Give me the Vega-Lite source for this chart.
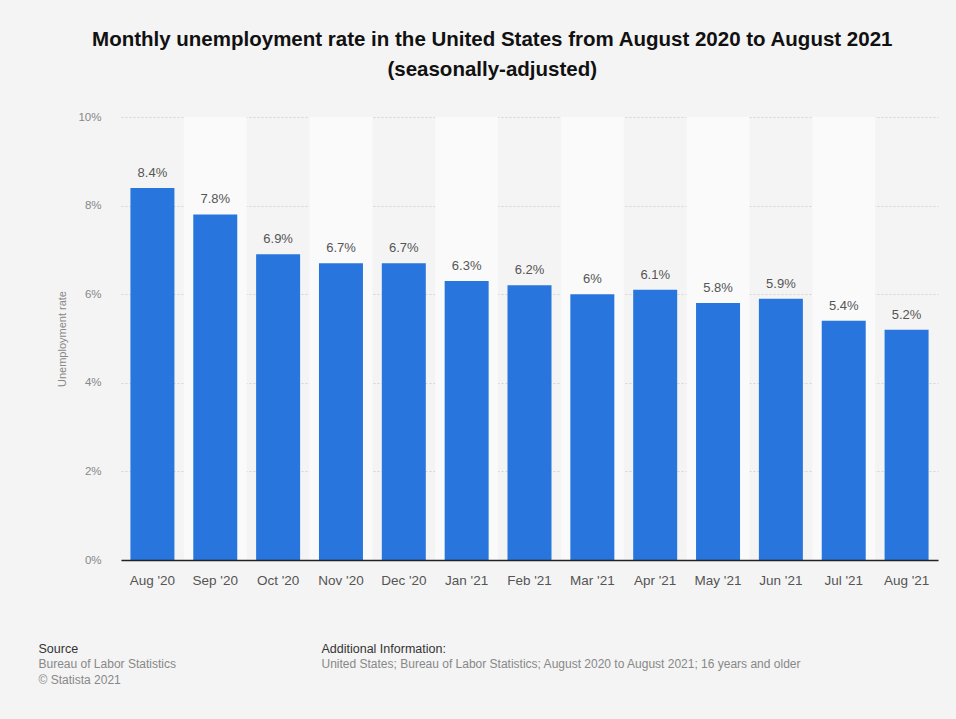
{
  "$schema": "https://vega.github.io/schema/vega-lite/v6.json",
  "background": "#f4f4f4",
  "padding": {"left": 38, "top": 29, "right": 12, "bottom": 30},
  "config": {
    "font": "Liberation Sans",
    "view": {"stroke": null},
    "concat": {"spacing": 56}
  },
  "title": {
    "text": ["Monthly unemployment rate in the United States from August 2020 to August 2021", "(seasonally-adjusted)"],
    "anchor": "middle",
    "fontSize": 20.5,
    "fontWeight": "bold",
    "color": "#111111",
    "lineHeight": 30,
    "offset": 31
  },
  "vconcat": [
    {
      "width": 817,
      "height": 443,
      "data": {
        "values": [
          {"month": "Aug '20", "rate": 0.084},
          {"month": "Sep '20", "rate": 0.078},
          {"month": "Oct '20", "rate": 0.069},
          {"month": "Nov '20", "rate": 0.067},
          {"month": "Dec '20", "rate": 0.067},
          {"month": "Jan '21", "rate": 0.063},
          {"month": "Feb '21", "rate": 0.062},
          {"month": "Mar '21", "rate": 0.06},
          {"month": "Apr '21", "rate": 0.061},
          {"month": "May '21", "rate": 0.058},
          {"month": "Jun '21", "rate": 0.059},
          {"month": "Jul '21", "rate": 0.054},
          {"month": "Aug '21", "rate": 0.052}
        ]
      },
      "encoding": {
        "x": {
          "field": "month",
          "type": "ordinal",
          "sort": ["Aug '20", "Sep '20", "Oct '20", "Nov '20", "Dec '20", "Jan '21", "Feb '21", "Mar '21", "Apr '21", "May '21", "Jun '21", "Jul '21", "Aug '21"],
          "scale": {"paddingInner": 0, "paddingOuter": 0},
          "axis": {
            "title": null,
            "labelAngle": 0,
            "labelFontSize": 13.5,
            "labelColor": "#555555",
            "labelPadding": 13,
            "ticks": false,
            "domain": true,
            "domainColor": "#222222",
            "domainWidth": 1.5,
            "grid": false
          }
        }
      },
      "layer": [
        {
          "data": {
            "values": [
              {"month": "Sep '20"}, {"month": "Nov '20"}, {"month": "Jan '21"},
              {"month": "Mar '21"}, {"month": "May '21"}, {"month": "Jul '21"}
            ]
          },
          "mark": {"type": "rect", "fill": "#fafafa"},
          "encoding": {
            "y": {"datum": 0.1, "type": "quantitative"},
            "y2": {"datum": 0}
          }
        },
        {
          "mark": {"type": "bar", "color": "#2876dd", "width": {"band": 0.7}},
          "encoding": {
            "y": {
              "field": "rate",
              "type": "quantitative",
              "scale": {"domain": [0, 0.1], "nice": false},
              "axis": {
                "title": "Unemployment rate",
                "titleFontSize": 11,
                "titleFontWeight": "normal",
                "titleColor": "#888888",
                "titlePadding": 10,
                "values": [0, 0.02, 0.04, 0.06, 0.08, 0.1],
                "format": ".0%",
                "labelFontSize": 11.5,
                "labelColor": "#888888",
                "labelPadding": 20,
                "ticks": false,
                "domain": false,
                "grid": true,
                "gridColor": "#d4d4d4",
                "gridDash": [2, 2],
                "gridWidth": 1
              }
            }
          }
        },
        {
          "mark": {"type": "text", "baseline": "bottom", "dy": -8, "fontSize": 13, "color": "#555555"},
          "encoding": {
            "y": {"field": "rate", "type": "quantitative"},
            "text": {"field": "rate", "type": "quantitative", "format": ".1~%"}
          }
        }
      ]
    },
    {
      "spacing": 10,
      "hconcat": [
        {
          "width": 190,
          "height": 1,
          "data": {"values": [{}]},
          "mark": {"type": "rule", "opacity": 0},
          "encoding": {},
          "title": {
            "text": "Source",
            "subtitle": ["Bureau of Labor Statistics", "© Statista 2021"],
            "anchor": "start",
            "dx": -82,
            "fontSize": 12.5,
            "fontWeight": "normal",
            "color": "#333333",
            "subtitleFontSize": 12,
            "subtitleColor": "#888888",
            "subtitleLineHeight": 16,
            "subtitlePadding": 3
          }
        },
        {
          "width": 624,
          "height": 1,
          "data": {"values": [{}]},
          "mark": {"type": "rule", "opacity": 0},
          "encoding": {},
          "title": {
            "text": "Additional Information:",
            "subtitle": ["United States; Bureau of Labor Statistics; August 2020 to August 2021; 16 years and older", " "],
            "anchor": "start",
            "fontSize": 12.5,
            "fontWeight": "normal",
            "color": "#333333",
            "subtitleFontSize": 12,
            "subtitleColor": "#888888",
            "subtitleLineHeight": 16,
            "subtitlePadding": 3
          }
        }
      ]
    }
  ]
}
